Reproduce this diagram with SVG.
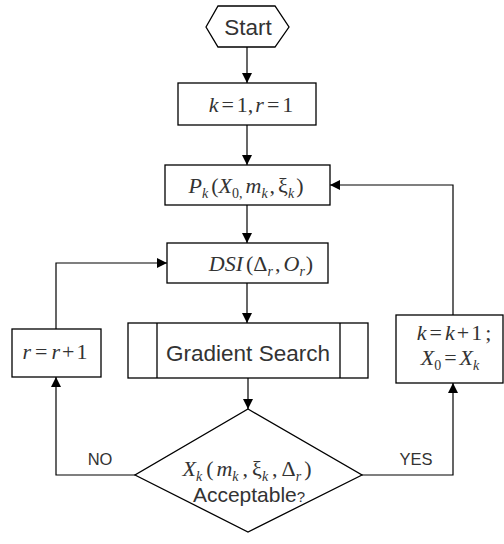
<svg xmlns="http://www.w3.org/2000/svg" width="504" height="544" viewBox="0 0 504 544">
  <defs>
    <marker id="arrow" viewBox="0 0 10 10" refX="10" refY="5" markerWidth="10" markerHeight="10" markerUnits="userSpaceOnUse" orient="auto">
      <path d="M0,0 L10,5 L0,10 Z" fill="#000"/>
    </marker>
    <style>
      .shape { fill: #fff; stroke: #000; stroke-width: 1.3; }
      .edge { fill: none; stroke: #000; stroke-width: 1.2; }
      .sans { font-family: "Liberation Sans", Arial, sans-serif; fill: #333; }
      .math { font-family: "Liberation Serif", "Times New Roman", serif; font-style: italic; fill: #333; font-size: 22px; }
      .up { font-style: normal; }
      .sub { font-size: 14px; }
    </style>
  </defs>
  <rect width="504" height="544" fill="#fff"/>

  <g id="connectors">
    <line class="edge" x1="247" y1="47" x2="247" y2="83" marker-end="url(#arrow)"/>
    <line class="edge" x1="247" y1="125" x2="247" y2="165" marker-end="url(#arrow)"/>
    <line class="edge" x1="247" y1="205" x2="247" y2="243" marker-end="url(#arrow)"/>
    <line class="edge" x1="247" y1="283" x2="247" y2="323" marker-end="url(#arrow)"/>
    <line class="edge" x1="248" y1="378" x2="248" y2="409" marker-end="url(#arrow)"/>
    <polyline class="edge" points="135,475 56,475 56,377" marker-end="url(#arrow)"/>
    <polyline class="edge" points="56,329 56,263 167,263" marker-end="url(#arrow)"/>
    <polyline class="edge" points="362,475 453,475 453,383" marker-end="url(#arrow)"/>
    <polyline class="edge" points="453,315 453,185 330,185" marker-end="url(#arrow)"/>
    <text class="sans" x="100" y="465" font-size="16.5" text-anchor="middle">NO</text>
    <text class="sans" x="416" y="465" font-size="16.5" text-anchor="middle">YES</text>
  </g>

  <g id="start">
    <polygon class="shape" points="206,27 218,6 275,6 289,27 275,47 218,47"/>
    <text class="sans" x="248" y="35" font-size="22.5" text-anchor="middle">Start</text>
  </g>

  <g id="init">
    <rect class="shape" x="178" y="83" width="138" height="42"/>
    <text class="math" x="251" y="112" text-anchor="middle">k<tspan class="up" dx="3">=</tspan><tspan class="up" dx="3">1,</tspan><tspan dx="2">r</tspan><tspan class="up" dx="3">=</tspan><tspan class="up" dx="3">1</tspan></text>
  </g>

  <g id="pk">
    <rect class="shape" x="165" y="165" width="165" height="40"/>
    <text class="math" x="246" y="193" text-anchor="middle">P<tspan class="sub" dy="5">k</tspan><tspan class="up" dx="3" dy="-5">(</tspan>X<tspan class="up sub" dy="5">0,</tspan><tspan dx="3" dy="-5">m</tspan><tspan class="sub" dy="5">k</tspan><tspan class="up" dx="2" dy="-5">,</tspan><tspan class="up" dx="3">ξ</tspan><tspan class="sub" dy="5">k</tspan><tspan class="up" dx="2" dy="-5">)</tspan></text>
  </g>

  <g id="dsi">
    <rect class="shape" x="167" y="243" width="161" height="40"/>
    <text class="math" x="261" y="271" text-anchor="middle">DSI<tspan class="up" dx="3">(Δ</tspan><tspan class="sub" dy="5">r</tspan><tspan class="up" dx="2" dy="-5">,</tspan><tspan dx="3">O</tspan><tspan class="sub" dy="5">r</tspan><tspan class="up" dx="1" dy="-5">)</tspan></text>
  </g>

  <g id="increment-r">
    <rect class="shape" x="12" y="329" width="89" height="48"/>
    <text class="math" x="55" y="359" text-anchor="middle">r<tspan class="up" dx="4">=</tspan><tspan dx="4">r</tspan><tspan class="up" dx="2">+</tspan><tspan class="up" dx="2">1</tspan></text>
  </g>

  <g id="gradient-search">
    <rect class="shape" x="128" y="323" width="240" height="55"/>
    <line class="shape" x1="157" y1="323" x2="157" y2="378"/>
    <line class="shape" x1="340" y1="323" x2="340" y2="378"/>
    <text class="sans" x="248" y="361" font-size="22.5" text-anchor="middle">Gradient Search</text>
  </g>

  <g id="increment-k">
    <rect class="shape" x="396" y="315" width="107" height="68"/>
    <text class="math" x="454" y="340" text-anchor="middle">k<tspan class="up" dx="3">=</tspan><tspan dx="3">k</tspan><tspan class="up" dx="2">+</tspan><tspan class="up" dx="2">1</tspan><tspan class="up" dx="3">;</tspan></text>
    <text class="math" x="450" y="365" text-anchor="middle">X<tspan class="up sub" dy="5">0</tspan><tspan class="up" dx="3" dy="-5">=</tspan><tspan dx="3">X</tspan><tspan class="sub" dy="5">k</tspan></text>
  </g>

  <g id="decision">
    <polygon class="shape" points="248,409 362,475 248,532 135,475"/>
    <text class="math" x="247" y="476" text-anchor="middle">X<tspan class="sub" dy="5">k</tspan><tspan class="up" dx="4" dy="-5">(</tspan><tspan dx="3">m</tspan><tspan class="sub" dy="5">k</tspan><tspan class="up" dx="4" dy="-5">,</tspan><tspan class="up" dx="4">ξ</tspan><tspan class="sub" dy="5">k</tspan><tspan class="up" dx="4" dy="-5">,</tspan><tspan class="up" dx="4">Δ</tspan><tspan class="sub" dy="5">r</tspan><tspan class="up" dx="3" dy="-5">)</tspan></text>
    <text class="sans" x="249" y="502" font-size="21" text-anchor="middle">Acceptable<tspan font-size="15">?</tspan></text>
  </g>
</svg>
